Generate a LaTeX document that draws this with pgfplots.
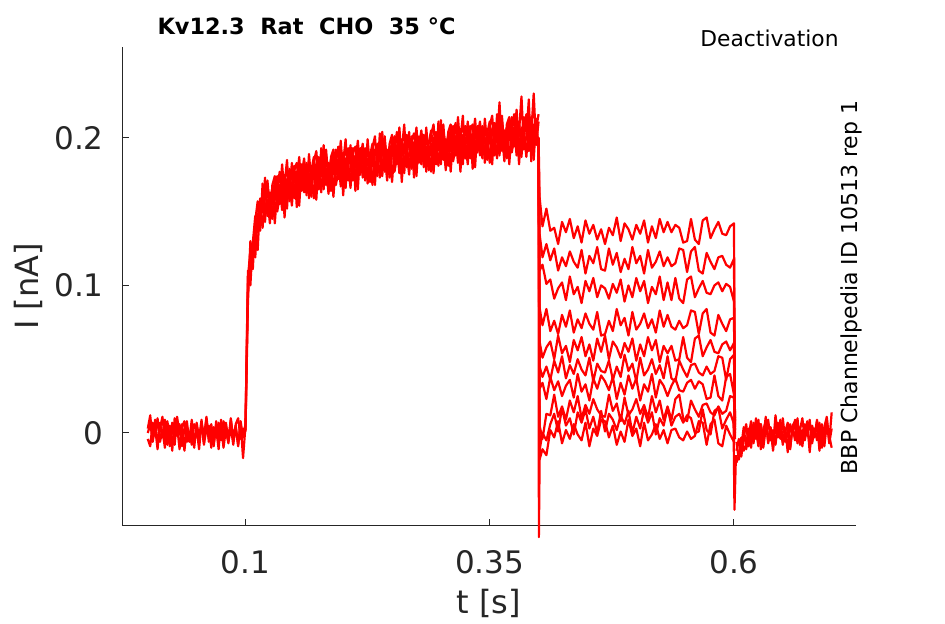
\documentclass[border=0pt]{standalone}
\usepackage{fontspec}
\setmainfont{DejaVu Sans}
\usepackage{pgfplots}
\usepackage{pgfplotstable}
\pgfplotsset{compat=1.18}
\definecolor{axisgray}{HTML}{262626}
\pgfplotsset{tr/.style={color=red, solid, mark=none, line width=1.1pt, line join=round}}

\pgfplotstableread[row sep=\\]{
t b1 b2 b3\\
0.0000 0.000 -0.004 0.003\\
0.0025 0.006 -0.009 0.012\\
0.0050 -0.004 0.007 -0.006\\
0.0075 0.009 -0.002 0.004\\
0.0100 -0.007 0.010 -0.011\\
0.0125 0.003 -0.006 0.007\\
0.0150 0.011 0.002 -0.003\\
0.0175 -0.005 -0.010 0.009\\
0.0200 0.002 0.008 -0.008\\
0.0225 -0.009 -0.003 0.005\\
0.0250 0.007 0.005 -0.012\\
0.0275 -0.002 -0.008 0.010\\
0.0300 0.005 0.011 -0.002\\
0.0325 -0.011 -0.001 0.006\\
0.0350 0.004 0.006 -0.009\\
0.0375 0.008 -0.012 0.003\\
0.0400 -0.006 0.004 0.008\\
0.0425 0.001 -0.005 -0.006\\
0.0450 -0.008 0.009 0.002\\
0.0475 0.006 -0.007 -0.010\\
0.0500 0.003 0.003 0.007\\
0.0525 -0.004 -0.011 -0.003\\
0.0550 0.009 0.007 0.005\\
0.0575 -0.007 -0.002 -0.008\\
0.0600 0.002 0.010 0.011\\
0.0625 0.005 -0.006 -0.004\\
0.0650 -0.010 0.001 0.006\\
0.0675 0.004 -0.009 -0.007\\
0.0700 -0.003 0.008 0.003\\
0.0725 0.007 -0.004 -0.011\\
0.0750 -0.005 0.006 0.009\\
0.0775 0.008 -0.010 -0.002\\
0.0800 0.001 0.003 0.007\\
0.0825 -0.006 -0.007 -0.005\\
0.0850 0.004 0.009 0.010\\
0.0875 -0.008 -0.003 -0.006\\
0.0900 0.006 0.005 0.004\\
0.0925 0.010 -0.008 -0.009\\
0.0950 -0.004 0.007 0.008\\
0.0975 0.003 -0.017 -0.003\\
0.1000 0.002 0.005 0.006\\
}\pre

\pgfplotstableread[row sep=\\]{
t a1 a2 a3 a4\\
0.1000 0.002 0.005 0.006 0.001\\
0.1025 0.088 0.110 0.096 0.105\\
0.1050 0.130 0.100 0.117 0.124\\
0.1075 0.120 0.129 0.111 0.124\\
0.1100 0.138 0.147 0.144 0.119\\
0.1125 0.124 0.138 0.157 0.148\\
0.1150 0.159 0.137 0.141 0.151\\
0.1175 0.150 0.169 0.157 0.139\\
0.1200 0.173 0.147 0.143 0.161\\
0.1225 0.147 0.158 0.167 0.171\\
0.1250 0.163 0.142 0.157 0.150\\
0.1275 0.145 0.168 0.166 0.156\\
0.1300 0.162 0.174 0.142 0.171\\
0.1325 0.174 0.157 0.165 0.150\\
0.1350 0.155 0.168 0.177 0.160\\
0.1375 0.173 0.151 0.158 0.182\\
0.1400 0.146 0.168 0.175 0.160\\
0.1425 0.172 0.185 0.157 0.152\\
0.1450 0.164 0.157 0.168 0.179\\
0.1475 0.183 0.168 0.154 0.173\\
0.1500 0.159 0.181 0.178 0.163\\
0.1525 0.172 0.153 0.183 0.177\\
0.1550 0.187 0.178 0.166 0.154\\
0.1575 0.164 0.172 0.175 0.182\\
0.1600 0.181 0.167 0.186 0.163\\
0.1625 0.161 0.183 0.169 0.178\\
0.1650 0.189 0.159 0.176 0.183\\
0.1675 0.169 0.178 0.160 0.173\\
0.1700 0.178 0.187 0.184 0.159\\
0.1725 0.158 0.172 0.191 0.182\\
0.1750 0.187 0.165 0.169 0.179\\
0.1775 0.174 0.193 0.181 0.163\\
0.1800 0.195 0.169 0.165 0.183\\
0.1825 0.168 0.179 0.188 0.192\\
0.1850 0.183 0.162 0.177 0.170\\
0.1875 0.164 0.187 0.185 0.175\\
0.1900 0.180 0.192 0.160 0.189\\
0.1925 0.192 0.175 0.183 0.168\\
0.1950 0.172 0.185 0.194 0.177\\
0.1975 0.189 0.167 0.174 0.198\\
0.2000 0.161 0.183 0.190 0.175\\
0.2025 0.186 0.199 0.171 0.166\\
0.2050 0.178 0.171 0.182 0.193\\
0.2075 0.195 0.180 0.166 0.185\\
0.2100 0.171 0.193 0.190 0.175\\
0.2125 0.183 0.164 0.194 0.188\\
0.2150 0.198 0.189 0.177 0.165\\
0.2175 0.175 0.183 0.186 0.193\\
0.2200 0.191 0.177 0.196 0.173\\
0.2225 0.171 0.193 0.179 0.188\\
0.2250 0.199 0.169 0.186 0.193\\
0.2275 0.179 0.188 0.170 0.183\\
0.2300 0.187 0.196 0.193 0.168\\
0.2325 0.168 0.182 0.201 0.192\\
0.2350 0.196 0.174 0.178 0.188\\
0.2375 0.184 0.203 0.191 0.173\\
0.2400 0.204 0.178 0.174 0.192\\
0.2425 0.177 0.188 0.197 0.201\\
0.2450 0.192 0.171 0.186 0.179\\
0.2475 0.173 0.196 0.194 0.184\\
0.2500 0.190 0.202 0.170 0.199\\
0.2525 0.201 0.184 0.192 0.177\\
0.2550 0.182 0.195 0.204 0.187\\
0.2575 0.198 0.176 0.183 0.207\\
0.2600 0.170 0.192 0.199 0.184\\
0.2625 0.196 0.209 0.181 0.176\\
0.2650 0.187 0.180 0.191 0.202\\
0.2675 0.204 0.189 0.175 0.194\\
0.2700 0.179 0.201 0.198 0.183\\
0.2725 0.192 0.173 0.203 0.197\\
0.2750 0.207 0.198 0.186 0.174\\
0.2775 0.183 0.191 0.194 0.201\\
0.2800 0.200 0.186 0.205 0.182\\
0.2825 0.180 0.202 0.188 0.197\\
0.2850 0.207 0.177 0.194 0.201\\
0.2875 0.187 0.196 0.178 0.191\\
0.2900 0.196 0.205 0.202 0.177\\
0.2925 0.176 0.190 0.209 0.200\\
0.2950 0.204 0.182 0.186 0.196\\
0.2975 0.192 0.211 0.199 0.181\\
0.3000 0.212 0.186 0.182 0.200\\
0.3025 0.185 0.196 0.205 0.209\\
0.3050 0.199 0.178 0.193 0.186\\
0.3075 0.181 0.204 0.202 0.192\\
0.3100 0.197 0.209 0.177 0.206\\
0.3125 0.208 0.191 0.199 0.184\\
0.3150 0.188 0.201 0.210 0.193\\
0.3175 0.205 0.183 0.190 0.214\\
0.3200 0.177 0.199 0.206 0.191\\
0.3225 0.202 0.215 0.187 0.182\\
0.3250 0.193 0.186 0.197 0.208\\
0.3275 0.211 0.196 0.182 0.201\\
0.3300 0.186 0.208 0.205 0.190\\
0.3325 0.198 0.179 0.209 0.203\\
0.3350 0.213 0.204 0.192 0.180\\
0.3375 0.190 0.198 0.201 0.208\\
0.3400 0.206 0.192 0.211 0.188\\
0.3425 0.186 0.208 0.194 0.203\\
0.3450 0.213 0.183 0.200 0.207\\
0.3475 0.194 0.203 0.185 0.198\\
0.3500 0.202 0.211 0.208 0.183\\
0.3525 0.182 0.196 0.215 0.206\\
0.3550 0.210 0.188 0.192 0.202\\
0.3575 0.197 0.216 0.204 0.186\\
0.3600 0.224 0.192 0.188 0.206\\
0.3625 0.191 0.202 0.211 0.215\\
0.3650 0.205 0.184 0.199 0.192\\
0.3675 0.186 0.209 0.207 0.197\\
0.3700 0.202 0.214 0.182 0.211\\
0.3725 0.214 0.197 0.205 0.190\\
0.3750 0.194 0.207 0.216 0.199\\
0.3775 0.210 0.188 0.195 0.219\\
0.3800 0.182 0.204 0.211 0.196\\
0.3825 0.207 0.228 0.192 0.187\\
0.3850 0.199 0.192 0.203 0.214\\
0.3875 0.216 0.201 0.187 0.206\\
0.3900 0.191 0.226 0.210 0.195\\
0.3925 0.203 0.184 0.214 0.208\\
0.3950 0.230 0.209 0.197 0.185\\
0.3975 0.195 0.203 0.206 0.213\\
0.4000 0.211 0.197 0.216 0.193\\
}\act

\pgfplotstableread[row sep=\\]{
t d1 d2 d3 d4 d5 d6 d7 d8 d9 d10\\
0.400 0.200 0.200 0.200 0.200 0.200 0.200 0.200 0.200 0.200 0.200\\
0.401 0.160 0.135 0.110 0.085 0.062 0.045 0.030 0.005 -0.012 -0.018\\
0.404 0.140 0.119 0.114 0.073 0.051 0.038 0.034 -0.004 0.000 -0.011\\
0.408 0.152 0.128 0.101 0.084 0.058 0.045 0.023 0.013 -0.005 -0.015\\
0.412 0.137 0.117 0.104 0.069 0.062 0.036 0.038 0.012 0.006 0.002\\
0.416 0.139 0.125 0.091 0.076 0.050 0.049 0.029 0.026 0.013 -0.003\\
0.420 0.128 0.110 0.098 0.067 0.066 0.041 0.035 0.011 0.001 0.008\\
0.424 0.143 0.119 0.102 0.080 0.054 0.052 0.025 0.018 0.017 -0.007\\
0.428 0.136 0.113 0.090 0.072 0.059 0.037 0.032 0.009 0.005 0.002\\
0.432 0.145 0.123 0.106 0.083 0.048 0.046 0.036 0.022 0.010 -0.004\\
0.436 0.132 0.116 0.094 0.068 0.063 0.040 0.024 0.014 -0.001 0.006\\
0.440 0.140 0.112 0.099 0.077 0.056 0.050 0.040 0.025 0.014 -0.001\\
0.444 0.129 0.124 0.088 0.071 0.065 0.043 0.028 0.010 0.007 -0.005\\
0.448 0.144 0.108 0.103 0.081 0.052 0.039 0.033 0.019 0.016 0.007\\
0.452 0.135 0.120 0.096 0.074 0.060 0.051 0.022 0.013 0.003 -0.009\\
0.456 0.141 0.115 0.105 0.070 0.049 0.035 0.037 0.023 0.011 0.003\\
0.460 0.131 0.126 0.092 0.082 0.064 0.047 0.030 0.016 0.000 -0.002\\
0.464 0.138 0.111 0.100 0.066 0.055 0.042 0.039 0.012 0.015 0.009\\
0.468 0.128 0.110 0.098 0.067 0.066 0.041 0.035 0.011 0.001 0.008\\
0.472 0.139 0.125 0.091 0.076 0.050 0.049 0.029 0.026 0.013 -0.003\\
0.476 0.134 0.114 0.101 0.069 0.062 0.036 0.038 0.015 0.009 0.005\\
0.480 0.146 0.122 0.095 0.084 0.058 0.045 0.023 0.020 0.002 -0.008\\
0.484 0.130 0.109 0.104 0.073 0.051 0.038 0.034 0.008 0.012 0.001\\
0.488 0.142 0.118 0.089 0.078 0.061 0.053 0.026 0.024 0.006 -0.006\\
0.492 0.138 0.111 0.100 0.066 0.055 0.042 0.039 0.012 0.015 0.009\\
0.496 0.131 0.126 0.092 0.082 0.064 0.047 0.030 0.016 0.000 -0.002\\
0.500 0.141 0.115 0.105 0.070 0.049 0.035 0.037 0.023 0.011 0.003\\
0.504 0.135 0.120 0.096 0.074 0.060 0.051 0.022 0.013 0.003 -0.009\\
0.508 0.144 0.108 0.103 0.081 0.052 0.039 0.033 0.019 0.016 0.007\\
0.512 0.129 0.124 0.088 0.071 0.065 0.043 0.028 0.010 0.007 -0.005\\
0.516 0.140 0.112 0.099 0.077 0.056 0.050 0.040 0.025 0.014 -0.001\\
0.520 0.132 0.116 0.094 0.068 0.063 0.040 0.024 0.014 -0.001 0.006\\
0.524 0.145 0.123 0.106 0.083 0.048 0.046 0.036 0.022 0.010 -0.004\\
0.528 0.136 0.113 0.090 0.072 0.059 0.037 0.032 0.009 0.005 0.002\\
0.532 0.143 0.119 0.102 0.080 0.054 0.052 0.025 0.018 0.017 -0.007\\
0.536 0.136 0.113 0.090 0.072 0.059 0.037 0.032 0.009 0.005 0.002\\
0.540 0.141 0.115 0.105 0.070 0.049 0.035 0.037 0.023 0.011 0.003\\
0.544 0.139 0.125 0.091 0.076 0.050 0.049 0.029 0.026 0.013 -0.003\\
0.548 0.129 0.124 0.088 0.071 0.065 0.043 0.028 0.010 0.007 -0.005\\
0.552 0.130 0.109 0.104 0.073 0.051 0.038 0.034 0.008 0.012 0.001\\
0.556 0.145 0.123 0.106 0.083 0.048 0.046 0.036 0.022 0.010 -0.004\\
0.560 0.131 0.126 0.092 0.082 0.064 0.047 0.030 0.016 0.000 -0.002\\
0.564 0.128 0.110 0.098 0.067 0.066 0.041 0.035 0.011 0.001 0.008\\
0.568 0.144 0.108 0.103 0.081 0.052 0.039 0.033 0.019 0.016 0.007\\
0.572 0.146 0.122 0.095 0.084 0.058 0.045 0.023 0.020 0.002 -0.008\\
0.576 0.132 0.116 0.094 0.068 0.063 0.040 0.024 0.014 -0.001 0.006\\
0.580 0.138 0.111 0.100 0.066 0.055 0.042 0.039 0.012 0.015 0.009\\
0.584 0.143 0.119 0.102 0.080 0.054 0.052 0.025 0.018 0.017 -0.007\\
0.588 0.135 0.120 0.096 0.074 0.060 0.051 0.022 0.013 0.003 -0.009\\
0.592 0.134 0.114 0.101 0.069 0.062 0.036 0.038 0.015 0.009 0.005\\
0.596 0.140 0.112 0.099 0.077 0.056 0.050 0.040 0.025 0.014 -0.001\\
0.600 0.142 0.118 0.089 0.078 0.061 0.053 0.026 0.024 0.006 -0.006\\
0.601 0.008 0.004 0.010 0.000 0.006 -0.003 0.005 0.002 -0.004 0.003\\
}\deact

\pgfplotstableread[row sep=\\]{
t p1 p2 p3\\
0.6025 -0.012 -0.020 -0.006\\
0.6050 -0.004 -0.015 -0.018\\
0.6075 -0.016 -0.003 -0.009\\
0.6100 -0.002 -0.012 0.004\\
0.6125 0.006 -0.008 -0.011\\
0.6150 -0.009 0.003 -0.002\\
0.6175 0.004 -0.010 0.008\\
0.6200 -0.007 0.007 -0.006\\
0.6225 0.010 -0.004 0.002\\
0.6250 -0.003 0.009 -0.009\\
0.6275 0.006 -0.011 0.006\\
0.6300 -0.010 0.002 -0.004\\
0.6325 0.003 0.008 0.011\\
0.6350 0.009 -0.006 -0.007\\
0.6375 -0.005 0.004 0.003\\
0.6400 0.002 -0.009 -0.012\\
0.6425 -0.008 0.012 0.005\\
0.6450 0.007 -0.002 -0.003\\
0.6475 -0.004 0.005 0.009\\
0.6500 0.010 -0.008 -0.006\\
0.6525 -0.006 0.003 0.001\\
0.6550 0.002 -0.013 0.007\\
0.6575 -0.011 0.006 -0.010\\
0.6600 0.005 -0.001 0.004\\
0.6625 0.008 0.009 -0.005\\
0.6650 -0.003 -0.007 0.010\\
0.6675 0.004 0.002 -0.008\\
0.6700 -0.009 0.010 0.002\\
0.6725 0.006 -0.005 -0.004\\
0.6750 -0.002 0.007 0.008\\
0.6775 0.009 -0.010 -0.013\\
0.6800 -0.007 0.004 0.005\\
0.6825 0.003 -0.003 -0.002\\
0.6850 -0.005 0.008 0.009\\
0.6875 0.007 -0.012 -0.006\\
0.6900 -0.010 0.006 0.003\\
0.6925 0.004 -0.004 -0.009\\
0.6950 0.011 0.009 0.006\\
0.6975 -0.006 -0.007 -0.002\\
0.7000 0.014 0.003 -0.010\\
}\post

\begin{document}
\begin{tikzpicture}
\useasboundingbox (-61pt,-49pt) rectangle (411.5pt,263pt);
\begin{axis}[
  at={(0,0)}, anchor=south west,
  width=367pt, height=239.5pt, scale only axis,
  xmin=-0.0264, xmax=0.7249, ymin=-0.063, ymax=0.2615,
  axis x line*=bottom, axis y line*=left,
  axis line style={color=axisgray, line width=0.5pt, -},
  xtick={0.1,0.35,0.6}, xticklabels={0.1,0.35,0.6},
  ytick={0,0.1,0.2}, yticklabels={0,0.1,0.2},
  /pgf/number format/assume math mode=true,
  tick align=inside, major tick length=3.6pt,
  tick style={color=axisgray, line width=0.5pt},
  ticklabel style={font=\fontsize{15.5}{18}\selectfont, text=axisgray},
  xticklabel style={anchor=north, inner sep=0pt, yshift=-12pt},
  yticklabel style={anchor=east, inner sep=0pt, xshift=-9pt},
  xlabel={t [s]}, ylabel={I [nA]},
  label style={font=\fontsize{16}{19}\selectfont, text=axisgray},
  xlabel style={at={(axis description cs:0.5,-0.1608)}, anchor=center},
  ylabel style={at={(axis description cs:-0.128,0.5)}, anchor=center},
  title={Kv12.3\ \ Rat\ \ CHO\ \ 35 °C},
  title style={at={(axis description cs:0.2514,1)}, anchor=base, inner sep=0pt,
    font=\fontsize{11.2}{13}\selectfont\bfseries, text=black},
  clip=false,
]
\addplot[tr] table[x=t,y=b1]{\pre};
\addplot[tr] table[x=t,y=b2]{\pre};
\addplot[tr] table[x=t,y=b3]{\pre};
\addplot[tr] table[x=t,y=a1]{\act};
\addplot[tr] table[x=t,y=a2]{\act};
\addplot[tr] table[x=t,y=a3]{\act};
\addplot[tr] table[x=t,y=a4]{\act};
\addplot[tr] table[x=t,y=d1]{\deact};
\addplot[tr] table[x=t,y=d2]{\deact};
\addplot[tr] table[x=t,y=d3]{\deact};
\addplot[tr] table[x=t,y=d4]{\deact};
\addplot[tr] table[x=t,y=d5]{\deact};
\addplot[tr] table[x=t,y=d6]{\deact};
\addplot[tr] table[x=t,y=d7]{\deact};
\addplot[tr] table[x=t,y=d8]{\deact};
\addplot[tr] table[x=t,y=d9]{\deact};
\addplot[tr] table[x=t,y=d10]{\deact};
\addplot[tr] table[x=t,y=p1]{\post};
\addplot[tr] table[x=t,y=p2]{\post};
\addplot[tr] table[x=t,y=p3]{\post};
\addplot[tr] coordinates {(0.4000,0.200) (0.4003,-0.0705) (0.4012,-0.010)};
\addplot[tr] coordinates {(0.5995,0.010) (0.6005,-0.052) (0.6020,-0.015)};
\node[anchor=base east, inner sep=0pt, font=\fontsize{10.9}{13}\selectfont, text=black]
  at (axis description cs:0.9768,1) {Deactivation};
\node[rotate=90, anchor=base, inner sep=0pt, font=\fontsize{11}{13}\selectfont, text=black]
  at (axis description cs:1.0023,0.4979) {BBP Channelpedia ID 10513 rep 1};
\end{axis}
\end{tikzpicture}
\end{document}
